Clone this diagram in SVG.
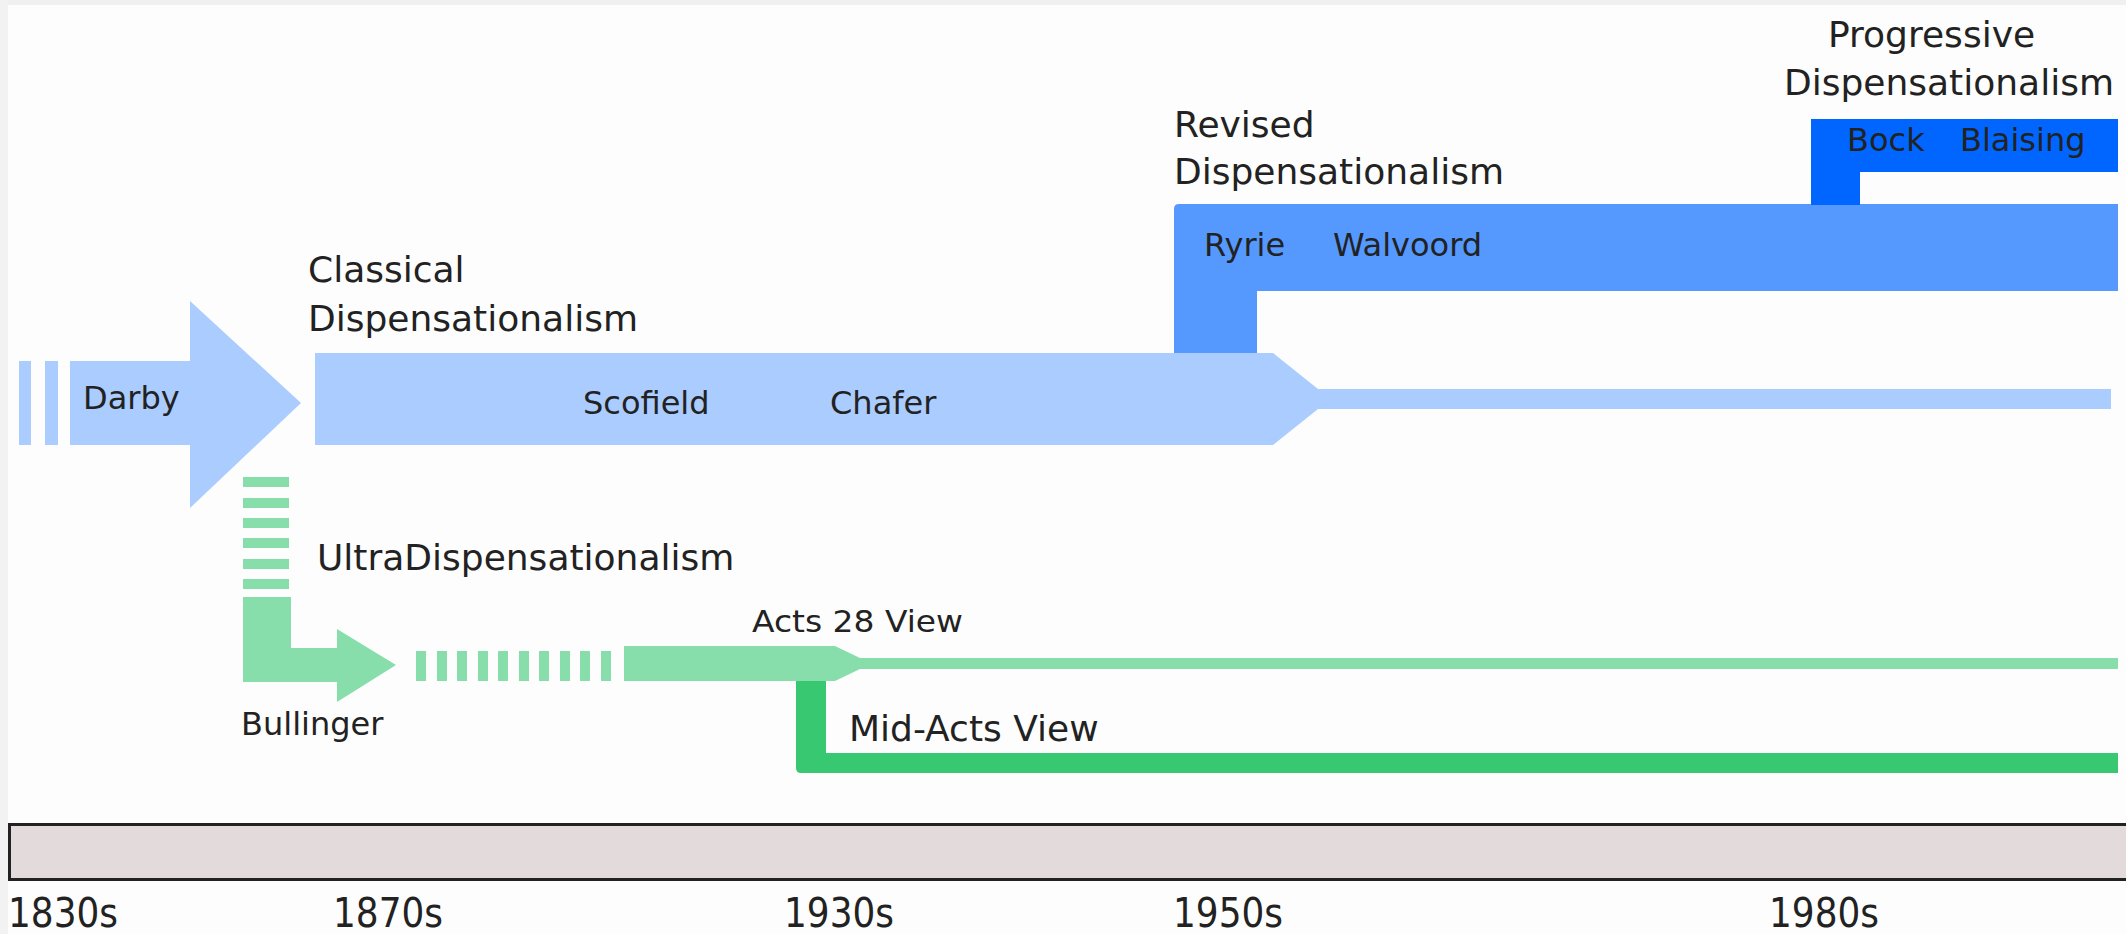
<svg xmlns="http://www.w3.org/2000/svg" width="2126" height="934" viewBox="0 0 2126 934">
<style>
text{font-family:"DejaVu Sans","Liberation Sans",sans-serif;fill:#222}
.big{font-size:36px}
.sm{font-size:32px}
.ax{font-size:40px}
.lb{fill:#aaccff}
.rb{fill:#5599ff}
.pb{fill:#0066ff}
.lg{fill:#87deaa}
.dg{fill:#37c871}
</style>
<rect x="0" y="0" width="2126" height="934" fill="#fdfdfd"/>
<rect x="0" y="0" width="2126" height="5" fill="#f0f0f0"/>
<rect x="0" y="0" width="8" height="934" fill="#f2f2f2"/>

<g id="connectors">
  <rect class="lg" x="243" y="477" width="46" height="10"/>
  <rect class="lg" x="243" y="498" width="46" height="10"/>
  <rect class="lg" x="243" y="518" width="46" height="10"/>
  <rect class="lg" x="243" y="538" width="46" height="10"/>
  <rect class="lg" x="243" y="559" width="46" height="10"/>
  <rect class="lg" x="243" y="579" width="46" height="10"/>
  <rect class="lg" x="416" y="651" width="10" height="30"/>
  <rect class="lg" x="437" y="651" width="10" height="30"/>
  <rect class="lg" x="457" y="651" width="10" height="30"/>
  <rect class="lg" x="478" y="651" width="10" height="30"/>
  <rect class="lg" x="498" y="651" width="10" height="30"/>
  <rect class="lg" x="519" y="651" width="10" height="30"/>
  <rect class="lg" x="539" y="651" width="10" height="30"/>
  <rect class="lg" x="560" y="651" width="10" height="30"/>
  <rect class="lg" x="580" y="651" width="10" height="30"/>
  <rect class="lg" x="601" y="651" width="10" height="30"/>
</g>

<g id="darby">
  <rect class="lb" x="19" y="361" width="12" height="84"/>
  <rect class="lb" x="45" y="361" width="13" height="84"/>
  <polygon class="lb" points="70,361 190,361 190,301 301,403 190,508 190,445 70,445"/>
  <text class="sm" x="83" y="409">Darby</text>
</g>

<g id="revised">
  <path class="rb" d="M1174,355 V209 Q1174,204 1179,204 H2118 V291 H1257 V355 Z"/>
  <text class="big" x="1174" y="137">Revised</text>
  <text class="big" x="1174" y="184">Dispensationalism</text>
  <text class="sm" x="1204" y="256">Ryrie</text>
  <text class="sm" x="1333" y="256">Walvoord</text>
</g>

<g id="progressive">
  <path class="pb" d="M1811,205 V119 H2118 V172 H1860 V205 Z"/>
  <text class="big" x="1828" y="47">Progressive</text>
  <text class="big" x="1784" y="95">Dispensationalism</text>
  <text class="sm" x="1847" y="151">Bock</text>
  <text class="sm" x="1960" y="151">Blaising</text>
</g>

<g id="classical">
  <polygon class="lb" points="315,353 1273,353 1318,389 2111,389 2111,409 1318,409 1273,445 315,445"/>
  <text class="big" x="308" y="282">Classical</text>
  <text class="big" x="308" y="331">Dispensationalism</text>
  <text class="sm" x="583" y="414">Scofield</text>
  <text class="sm" x="830" y="414">Chafer</text>
</g>

<g id="ultra">
  <polygon class="lg" points="243,597 291,597 291,648 337,648 337,629 396,665 337,702 337,682 243,682"/>
  <text class="big" x="317" y="570">UltraDispensationalism</text>
  <text class="sm" x="241" y="735">Bullinger</text>
</g>

<g id="acts28">
  <polygon class="lg" points="624,646 835,646 860,658 2118,658 2118,669 860,669 835,681 624,681"/>
  <text x="752" y="632" font-size="30" textLength="211" lengthAdjust="spacingAndGlyphs">Acts 28 View</text>
</g>

<g id="midacts">
  <path class="dg" d="M796,681 V768 Q796,773 801,773 H2118 V753 H826 V681 Z"/>
  <text class="big" x="849" y="741">Mid-Acts View</text>
</g>

<g id="axis">
  <rect x="9.5" y="824.5" width="2130" height="55" fill="#e3dbdb" stroke="#222" stroke-width="3"/>
  <text class="ax" x="8" y="927" textLength="110" lengthAdjust="spacingAndGlyphs">1830s</text>
  <text class="ax" x="333" y="927" textLength="110" lengthAdjust="spacingAndGlyphs">1870s</text>
  <text class="ax" x="784" y="927" textLength="110" lengthAdjust="spacingAndGlyphs">1930s</text>
  <text class="ax" x="1173" y="927" textLength="110" lengthAdjust="spacingAndGlyphs">1950s</text>
  <text class="ax" x="1769" y="927" textLength="110" lengthAdjust="spacingAndGlyphs">1980s</text>
</g>
</svg>
